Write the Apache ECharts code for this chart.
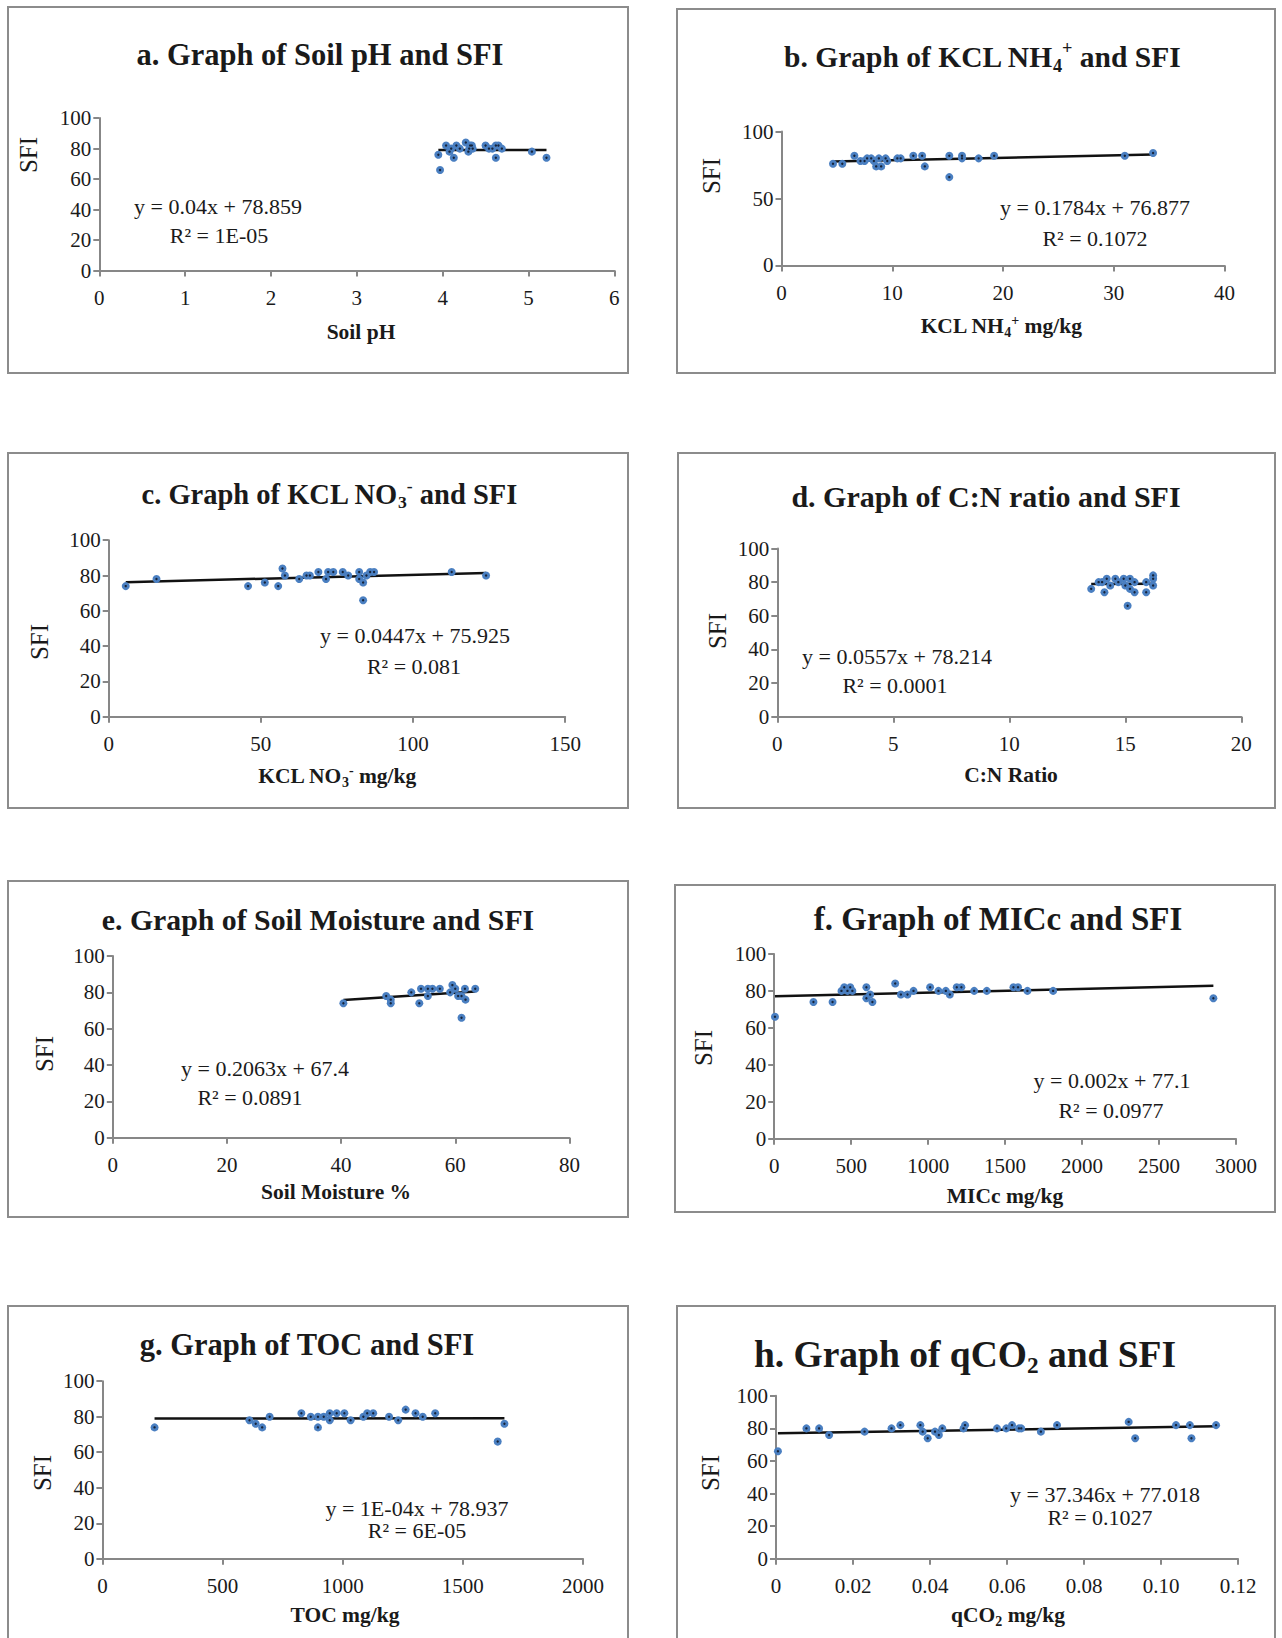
<!DOCTYPE html>
<html>
<head>
<meta charset="utf-8">
<title>Soil properties and SFI</title>
<script src="https://cdn.jsdelivr.net/npm/echarts@6/dist/echarts.min.js"></script>
<style>
  html, body { margin: 0; padding: 0; background: #ffffff; }
  #chart { width: 1282px; height: 1638px; }
</style>
</head>
<body>
<div id="chart"></div>
<script>
// ---- Sample data: [x, SFI] per soil property ----
const soilPh = [[3.95,76],[3.97,66],[4.04,82],[4.08,78],[4.10,80],[4.13,74],[4.16,82],[4.20,80],[4.27,84],[4.30,78],[4.31,80],[4.32,82],[4.34,82],[4.35,80],[4.50,82],[4.54,80],[4.58,80],[4.62,82],[4.62,74],[4.65,82],[4.69,80],[5.04,78],[5.21,74]];
const kclNh4 = [[4.65,76],[5.49,76],[6.58,82],[7.13,78],[7.5,78],[7.73,80],[8.1,80],[8.34,78],[8.55,74],[8.79,80],[9.0,74],[9.4,80],[9.55,78],[10.46,80],[10.76,80],[11.9,82],[12.7,82],[12.94,74],[15.15,82],[15.15,66],[16.3,82],[16.3,80],[17.8,80],[19.2,82],[31.0,82],[33.55,84]];
const kclNo3 = [[5.6,74],[15.7,78],[45.8,74],[51.3,76],[55.7,74],[57.1,84],[57.9,80],[62.6,78],[65,80],[66.1,80],[68.9,82],[71.4,78],[72.1,82],[73.8,82],[76.9,82],[78.7,80],[82.3,82],[82.3,78],[83.6,76],[83.6,66],[84.7,80],[85.9,82],[87.2,82],[112.7,82],[124,80]];
const cnRatio = [[13.53,76],[13.85,80],[14.0,80],[14.1,74],[14.2,82],[14.35,78],[14.57,82],[14.7,80],[14.93,82],[15.0,78],[15.1,66],[15.2,82],[15.2,76],[15.4,80],[15.4,74],[15.9,80],[15.9,74],[16.2,84],[16.2,78],[16.2,82]];
const soilMoisture = [[40.4,74],[47.9,78],[48.7,76],[48.7,74],[52.3,80],[53.7,74],[54.0,82],[55.2,82],[55.2,78],[56.0,82],[57.3,82],[59.1,80],[59.5,84],[60.0,82],[60.5,78],[61.1,78],[61.1,66],[61.7,82],[61.8,76],[63.5,82]];
const micc = [[5,66],[255,74],[379,74],[437,80],[455,82],[476,80],[494,82],[508,80],[599,82],[599,76],[623,78],[638,74],[786,84],[823,78],[866,78],[905,80],[1013,82],[1067,80],[1115,80],[1141,78],[1186,82],[1216,82],[1299,80],[1381,80],[1554,82],[1584,82],[1645,80],[1812,80],[2853,76]];
const toc = [[217,74],[612,78],[638,76],[665,74],[696,80],[828,82],[867,80],[897,74],[897,80],[921,80],[946,82],[946,78],[975,82],[1007,82],[1033,78],[1086,80],[1102,82],[1127,82],[1193,80],[1231,78],[1262,84],[1303,82],[1333,80],[1385,82],[1645,66],[1673,76]];
const qco2 = [[0.0005,66],[0.0079,80],[0.0112,80],[0.0138,76],[0.0230,78],[0.0300,80],[0.0323,82],[0.0375,82],[0.0381,78],[0.0394,74],[0.0413,78],[0.0423,76],[0.0432,80],[0.0487,80],[0.0491,82],[0.0574,80],[0.0598,80],[0.0613,82],[0.0631,80],[0.0637,80],[0.0688,78],[0.0730,82],[0.0916,84],[0.0933,74],[0.1039,82],[0.1075,82],[0.1079,74],[0.1143,82]];

// ---- Linear trend fits (slope, intercept) and their printed labels ----
const trendSlopes = [0.04, 0.1784, 0.0447, 0.0557, 0.2063, 0.002, 0.0001, 37.346];
const trendIntercepts = [78.859, 76.877, 75.925, 78.214, 67.4, 77.1, 78.937, 77.018];
const equationLabels = ['y = 0.04x + 78.859', 'y = 0.1784x + 76.877', 'y = 0.0447x + 75.925', 'y = 0.0557x + 78.214', 'y = 0.2063x + 67.4', 'y = 0.002x + 77.1', 'y = 1E-04x + 78.937', 'y = 37.346x + 77.018'];
const r2Labels = ['R\u00B2 = 1E-05', 'R\u00B2 = 0.1072', 'R\u00B2 = 0.081', 'R\u00B2 = 0.0001', 'R\u00B2 = 0.0891', 'R\u00B2 = 0.0977', 'R\u00B2 = 6E-05', 'R\u00B2 = 0.1027'];

// ---- Axis scales ----
const xAxisMax = [6, 40, 150, 20, 80, 3000, 2000, 0.12];
const xAxisStep = [1, 10, 50, 5, 20, 500, 500, 0.02];
const yAxisStep = [20, 50, 20, 20, 20, 20, 20, 20];
const plainTick = v => String(v);
const xTickFormat = [plainTick, plainTick, plainTick, plainTick, plainTick, plainTick, plainTick, v => (v === 0 ? '0' : v.toFixed(2))];

// ---- Titles and axis names (rich text for sub/superscripts) ----
const panelTitles = [
  '{t|a. Graph of Soil pH and SFI}',
  '{t|b. Graph of KCL NH}{sub|4}{sup|+}{t| and SFI}',
  '{t|c. Graph of KCL NO}{sub|3}{sup|-}{t| and SFI}',
  '{t|d. Graph of C:N ratio and SFI}',
  '{t|e. Graph of Soil Moisture and SFI}',
  '{t|f. Graph of MICc and SFI}',
  '{t|g. Graph of TOC and SFI}',
  '{t|h. Graph of qCO}{sub|2}{t| and SFI}'
];
const xAxisNames = [
  '{b|Soil pH}',
  '{b|KCL NH}{bs|4}{bp|+}{b| mg/kg}',
  '{b|KCL NO}{bs|3}{bp|-}{b| mg/kg}',
  '{b|C:N Ratio}',
  '{b|Soil Moisture %}',
  '{b|MICc mg/kg}',
  '{b|TOC mg/kg}',
  '{b|qCO}{bs|2}{b| mg/kg}'
];
const yAxisName = 'SFI';

const panelData = [soilPh, kclNh4, kclNo3, cnRatio, soilMoisture, micc, toc, qco2];

// ---- Page layout (pixels) ----
const layout = [
  { box: [8, 7, 620, 366],     grid: [99.3, 118.1, 515, 152.5],    title: [320, 55, 30.5],   eq: [218, 206],  r2: [219, 235],  xName: [361, 332],  yName: [28, 155] },
  { box: [677, 9, 598, 364],   grid: [781.5, 131.6, 443, 133.8],   title: [982, 57, 29.5],   eq: [1095, 207], r2: [1095, 238], xName: [1001, 326], yName: [711, 176] },
  { box: [8, 453, 620, 355],   grid: [108.7, 540.2, 456.5, 176.5], title: [329, 494, 28.5],  eq: [415, 635],  r2: [414, 666],  xName: [337, 776],  yName: [39, 642] },
  { box: [678, 453, 597, 355], grid: [777.3, 548.5, 464, 168.2],   title: [986, 496, 30],    eq: [897, 656],  r2: [895, 685],  xName: [1011, 775], yName: [717, 631] },
  { box: [8, 881, 620, 336],   grid: [112.8, 956, 456.6, 181.8],   title: [318, 919, 29.8],  eq: [265, 1068], r2: [250, 1097], xName: [336, 1192], yName: [44, 1054] },
  { box: [675, 885, 600, 327], grid: [774.2, 953.9, 461.8, 184.9], title: [998, 919, 33],    eq: [1112, 1080], r2: [1111, 1110], xName: [1005, 1196], yName: [703, 1048] },
  { box: [8, 1306, 620, 345],  grid: [102.4, 1381.2, 480.6, 177.6], title: [307, 1345, 30.5], eq: [417, 1508], r2: [417, 1530], xName: [345, 1615], yName: [42, 1473] },
  { box: [677, 1306, 598, 345], grid: [776, 1395.8, 462, 163],     title: [965, 1354, 37.5], eq: [1105, 1494], r2: [1100, 1517], xName: [1008, 1615], yName: [710, 1473] }
];

const SERIF = '"Liberation Serif", "Times New Roman", Times, serif';
const INK = '#1a1a1a';
const AXIS_GREY = '#878787';
const DOT_BLUE = '#4a7fc1';

const grids = [], xAxes = [], yAxes = [], series = [], graphics = [];

panelData.forEach((pts, i) => {
  const L = layout[i];
  grids.push({ left: L.grid[0], top: L.grid[1], width: L.grid[2], height: L.grid[3] });

  xAxes.push({
    gridIndex: i, type: 'value', min: 0, max: xAxisMax[i], interval: xAxisStep[i],
    axisLine: { show: true, onZero: false, lineStyle: { color: AXIS_GREY, width: 2 } },
    axisTick: { show: true, length: 6, lineStyle: { color: AXIS_GREY, width: 2 } },
    axisLabel: { color: INK, fontFamily: SERIF, fontSize: 21, margin: 17, formatter: xTickFormat[i] },
    splitLine: { show: false }
  });
  yAxes.push({
    gridIndex: i, type: 'value', min: 0, max: 100, interval: yAxisStep[i],
    axisLine: { show: true, onZero: false, lineStyle: { color: AXIS_GREY, width: 2 } },
    axisTick: { show: true, length: 6, lineStyle: { color: AXIS_GREY, width: 2 } },
    axisLabel: { color: INK, fontFamily: SERIF, fontSize: 21, margin: 8 },
    splitLine: { show: false }
  });

  // trend line spans the observed x range, values from the printed fit
  const xs = pts.map(p => p[0]);
  const x0 = Math.min(...xs), x1 = Math.max(...xs);
  const a = trendSlopes[i], b = trendIntercepts[i];
  series.push({
    type: 'line', xAxisIndex: i, yAxisIndex: i, silent: true, z: 2,
    data: [[x0, a * x0 + b], [x1, a * x1 + b]],
    symbol: 'none', lineStyle: { color: '#111111', width: 2.5 }
  });
  series.push({
    type: 'scatter', xAxisIndex: i, yAxisIndex: i, silent: true, z: 3,
    data: pts, symbolSize: 8, itemStyle: { color: DOT_BLUE, opacity: 1 }
  });
  series.push({
    type: 'scatter', xAxisIndex: i, yAxisIndex: i, silent: true, z: 4,
    data: pts, symbolSize: 2.4, itemStyle: { color: '#17243a', opacity: 1 }
  });

  // panel frame
  graphics.push({
    type: 'rect', silent: true, z: 0,
    shape: { x: L.box[0], y: L.box[1], width: L.box[2], height: L.box[3] },
    style: { fill: 'none', stroke: '#8c8c8c', lineWidth: 2 }
  });

  const ts = L.title[2];
  graphics.push({
    type: 'text', x: L.title[0], y: L.title[1], silent: true,
    style: {
      text: panelTitles[i], align: 'center', verticalAlign: 'middle',
      rich: {
        t: { fontFamily: SERIF, fontWeight: 'bold', fontSize: ts, fill: INK, lineHeight: ts * 1.2 },
        sub: { fontFamily: SERIF, fontWeight: 'bold', fontSize: ts * 0.62, fill: INK, lineHeight: ts * 0.62, verticalAlign: 'bottom' },
        sup: { fontFamily: SERIF, fontWeight: 'bold', fontSize: ts * 0.62, fill: INK, lineHeight: ts * 0.62, verticalAlign: 'top' }
      }
    }
  });

  graphics.push({
    type: 'text', x: L.xName[0], y: L.xName[1], silent: true,
    style: {
      text: xAxisNames[i], align: 'center', verticalAlign: 'middle',
      rich: {
        b: { fontFamily: SERIF, fontWeight: 'bold', fontSize: 21.5, fill: INK, lineHeight: 26 },
        bs: { fontFamily: SERIF, fontWeight: 'bold', fontSize: 14, fill: INK, lineHeight: 14, verticalAlign: 'bottom' },
        bp: { fontFamily: SERIF, fontWeight: 'bold', fontSize: 14, fill: INK, lineHeight: 14, verticalAlign: 'top' }
      }
    }
  });

  graphics.push({
    type: 'text', x: L.yName[0], y: L.yName[1], rotation: Math.PI / 2, silent: true,
    style: { text: yAxisName, align: 'center', verticalAlign: 'middle', fontFamily: SERIF, fontSize: 25, fill: INK }
  });

  graphics.push({
    type: 'text', x: L.eq[0], y: L.eq[1], silent: true,
    style: { text: equationLabels[i], align: 'center', verticalAlign: 'middle', fontFamily: SERIF, fontSize: 22, fill: INK }
  });
  graphics.push({
    type: 'text', x: L.r2[0], y: L.r2[1], silent: true,
    style: { text: r2Labels[i], align: 'center', verticalAlign: 'middle', fontFamily: SERIF, fontSize: 22, fill: INK }
  });
});

const chart = echarts.init(document.getElementById('chart'), null, { renderer: 'svg', width: 1282, height: 1638 });
chart.setOption({
  animation: false,
  backgroundColor: '#ffffff',
  grid: grids,
  xAxis: xAxes,
  yAxis: yAxes,
  series: series,
  graphic: graphics
});
</script>
</body>
</html>
